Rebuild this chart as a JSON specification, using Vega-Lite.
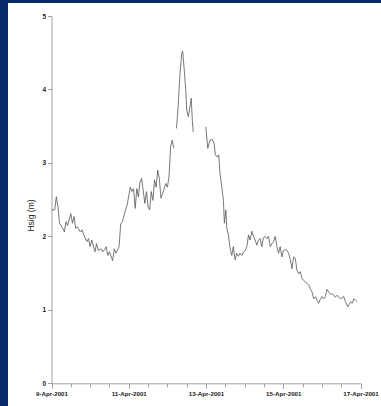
{
  "$schema": "https://vega.github.io/schema/vega-lite/v6.json",
  "width": 373,
  "height": 403,
  "autosize": "none",
  "padding": {"left": 8, "top": 3, "right": 0, "bottom": 0},
  "background": "#062a6b",
  "config": {"view": {"fill": "white", "stroke": null}, "font": "Liberation Sans"},
  "data": {"values": [
    {"t": "2001-04-09T00:00", "hsig": 2.36, "seg": 1},
    {"t": "2001-04-09T02:00", "hsig": 2.36, "seg": 1},
    {"t": "2001-04-09T03:00", "hsig": 2.54, "seg": 1},
    {"t": "2001-04-09T04:00", "hsig": 2.40, "seg": 1},
    {"t": "2001-04-09T05:00", "hsig": 2.18, "seg": 1},
    {"t": "2001-04-09T07:00", "hsig": 2.11, "seg": 1},
    {"t": "2001-04-09T08:00", "hsig": 2.06, "seg": 1},
    {"t": "2001-04-09T09:00", "hsig": 2.20, "seg": 1},
    {"t": "2001-04-09T10:00", "hsig": 2.15, "seg": 1},
    {"t": "2001-04-09T12:00", "hsig": 2.31, "seg": 1},
    {"t": "2001-04-09T13:00", "hsig": 2.18, "seg": 1},
    {"t": "2001-04-09T14:00", "hsig": 2.27, "seg": 1},
    {"t": "2001-04-09T15:00", "hsig": 2.11, "seg": 1},
    {"t": "2001-04-09T16:00", "hsig": 2.13, "seg": 1},
    {"t": "2001-04-09T18:00", "hsig": 2.06, "seg": 1},
    {"t": "2001-04-09T19:00", "hsig": 2.09, "seg": 1},
    {"t": "2001-04-09T20:00", "hsig": 2.02, "seg": 1},
    {"t": "2001-04-09T22:00", "hsig": 1.93, "seg": 1},
    {"t": "2001-04-09T23:00", "hsig": 1.97, "seg": 1},
    {"t": "2001-04-10T00:00", "hsig": 1.86, "seg": 1},
    {"t": "2001-04-10T01:00", "hsig": 1.95, "seg": 1},
    {"t": "2001-04-10T03:00", "hsig": 1.79, "seg": 1},
    {"t": "2001-04-10T04:00", "hsig": 1.90, "seg": 1},
    {"t": "2001-04-10T05:00", "hsig": 1.81, "seg": 1},
    {"t": "2001-04-10T07:00", "hsig": 1.83, "seg": 1},
    {"t": "2001-04-10T08:00", "hsig": 1.79, "seg": 1},
    {"t": "2001-04-10T09:00", "hsig": 1.82, "seg": 1},
    {"t": "2001-04-10T10:00", "hsig": 1.86, "seg": 1},
    {"t": "2001-04-10T11:00", "hsig": 1.74, "seg": 1},
    {"t": "2001-04-10T12:00", "hsig": 1.79, "seg": 1},
    {"t": "2001-04-10T14:00", "hsig": 1.67, "seg": 1},
    {"t": "2001-04-10T15:00", "hsig": 1.83, "seg": 1},
    {"t": "2001-04-10T16:00", "hsig": 1.77, "seg": 1},
    {"t": "2001-04-10T18:00", "hsig": 1.86, "seg": 1},
    {"t": "2001-04-10T19:00", "hsig": 2.17, "seg": 1},
    {"t": "2001-04-10T20:00", "hsig": 2.20, "seg": 1},
    {"t": "2001-04-10T22:00", "hsig": 2.36, "seg": 1},
    {"t": "2001-04-10T23:00", "hsig": 2.43, "seg": 1},
    {"t": "2001-04-11T01:00", "hsig": 2.67, "seg": 1},
    {"t": "2001-04-11T02:00", "hsig": 2.61, "seg": 1},
    {"t": "2001-04-11T03:00", "hsig": 2.65, "seg": 1},
    {"t": "2001-04-11T04:00", "hsig": 2.38, "seg": 1},
    {"t": "2001-04-11T05:00", "hsig": 2.65, "seg": 1},
    {"t": "2001-04-11T06:00", "hsig": 2.54, "seg": 1},
    {"t": "2001-04-11T07:00", "hsig": 2.74, "seg": 1},
    {"t": "2001-04-11T08:00", "hsig": 2.79, "seg": 1},
    {"t": "2001-04-11T10:00", "hsig": 2.45, "seg": 1},
    {"t": "2001-04-11T11:00", "hsig": 2.61, "seg": 1},
    {"t": "2001-04-11T12:00", "hsig": 2.40, "seg": 1},
    {"t": "2001-04-11T13:00", "hsig": 2.36, "seg": 1},
    {"t": "2001-04-11T14:00", "hsig": 2.61, "seg": 1},
    {"t": "2001-04-11T15:00", "hsig": 2.49, "seg": 1},
    {"t": "2001-04-11T16:00", "hsig": 2.77, "seg": 1},
    {"t": "2001-04-11T17:00", "hsig": 2.67, "seg": 1},
    {"t": "2001-04-11T18:00", "hsig": 2.90, "seg": 1},
    {"t": "2001-04-11T19:00", "hsig": 2.79, "seg": 1},
    {"t": "2001-04-11T20:00", "hsig": 2.52, "seg": 1},
    {"t": "2001-04-11T21:00", "hsig": 2.58, "seg": 1},
    {"t": "2001-04-11T23:00", "hsig": 2.72, "seg": 1},
    {"t": "2001-04-12T00:00", "hsig": 2.67, "seg": 1},
    {"t": "2001-04-12T01:00", "hsig": 2.81, "seg": 1},
    {"t": "2001-04-12T02:00", "hsig": 3.22, "seg": 1},
    {"t": "2001-04-12T03:00", "hsig": 3.31, "seg": 1},
    {"t": "2001-04-12T04:00", "hsig": 3.20, "seg": 1},
    {"t": "2001-04-12T05:40", "hsig": 3.47, "seg": 2},
    {"t": "2001-04-12T06:40", "hsig": 3.76, "seg": 2},
    {"t": "2001-04-12T07:50", "hsig": 4.22, "seg": 2},
    {"t": "2001-04-12T08:55", "hsig": 4.49, "seg": 2},
    {"t": "2001-04-12T09:30", "hsig": 4.52, "seg": 2},
    {"t": "2001-04-12T10:30", "hsig": 4.26, "seg": 2},
    {"t": "2001-04-12T11:25", "hsig": 3.99, "seg": 2},
    {"t": "2001-04-12T12:00", "hsig": 3.72, "seg": 2},
    {"t": "2001-04-12T13:00", "hsig": 3.63, "seg": 2},
    {"t": "2001-04-12T14:00", "hsig": 3.76, "seg": 2},
    {"t": "2001-04-12T14:50", "hsig": 3.88, "seg": 2},
    {"t": "2001-04-12T15:30", "hsig": 3.58, "seg": 2},
    {"t": "2001-04-12T16:05", "hsig": 3.42, "seg": 2},
    {"t": "2001-04-12T23:55", "hsig": 3.49, "seg": 3},
    {"t": "2001-04-13T01:05", "hsig": 3.20, "seg": 3},
    {"t": "2001-04-13T02:30", "hsig": 3.31, "seg": 3},
    {"t": "2001-04-13T03:55", "hsig": 3.32, "seg": 3},
    {"t": "2001-04-13T05:00", "hsig": 3.27, "seg": 3},
    {"t": "2001-04-13T05:50", "hsig": 3.11, "seg": 3},
    {"t": "2001-04-13T07:00", "hsig": 3.08, "seg": 3},
    {"t": "2001-04-13T07:55", "hsig": 3.11, "seg": 3},
    {"t": "2001-04-13T08:40", "hsig": 2.86, "seg": 3},
    {"t": "2001-04-13T09:50", "hsig": 2.67, "seg": 3},
    {"t": "2001-04-13T10:50", "hsig": 2.49, "seg": 3},
    {"t": "2001-04-13T11:25", "hsig": 2.18, "seg": 3},
    {"t": "2001-04-13T12:20", "hsig": 2.36, "seg": 3},
    {"t": "2001-04-13T12:55", "hsig": 2.11, "seg": 3},
    {"t": "2001-04-13T13:55", "hsig": 2.02, "seg": 3},
    {"t": "2001-04-13T15:00", "hsig": 1.83, "seg": 3},
    {"t": "2001-04-13T16:00", "hsig": 1.74, "seg": 3},
    {"t": "2001-04-13T17:00", "hsig": 1.86, "seg": 3},
    {"t": "2001-04-13T18:05", "hsig": 1.68, "seg": 3},
    {"t": "2001-04-13T19:05", "hsig": 1.77, "seg": 3},
    {"t": "2001-04-13T20:05", "hsig": 1.73, "seg": 3},
    {"t": "2001-04-13T21:10", "hsig": 1.77, "seg": 3},
    {"t": "2001-04-13T22:20", "hsig": 1.74, "seg": 3},
    {"t": "2001-04-13T23:20", "hsig": 1.79, "seg": 3},
    {"t": "2001-04-14T00:20", "hsig": 1.81, "seg": 3},
    {"t": "2001-04-14T01:25", "hsig": 1.86, "seg": 3},
    {"t": "2001-04-14T02:25", "hsig": 2.02, "seg": 3},
    {"t": "2001-04-14T03:25", "hsig": 1.95, "seg": 3},
    {"t": "2001-04-14T04:30", "hsig": 2.07, "seg": 3},
    {"t": "2001-04-14T05:30", "hsig": 2.00, "seg": 3},
    {"t": "2001-04-14T06:35", "hsig": 1.95, "seg": 3},
    {"t": "2001-04-14T07:35", "hsig": 1.88, "seg": 3},
    {"t": "2001-04-14T08:35", "hsig": 1.95, "seg": 3},
    {"t": "2001-04-14T09:40", "hsig": 1.97, "seg": 3},
    {"t": "2001-04-14T10:40", "hsig": 1.86, "seg": 3},
    {"t": "2001-04-14T11:40", "hsig": 1.98, "seg": 3},
    {"t": "2001-04-14T12:50", "hsig": 2.00, "seg": 3},
    {"t": "2001-04-14T13:50", "hsig": 1.97, "seg": 3},
    {"t": "2001-04-14T14:50", "hsig": 2.00, "seg": 3},
    {"t": "2001-04-14T15:55", "hsig": 1.86, "seg": 3},
    {"t": "2001-04-14T17:00", "hsig": 1.90, "seg": 3},
    {"t": "2001-04-14T18:00", "hsig": 1.93, "seg": 3},
    {"t": "2001-04-14T19:00", "hsig": 2.00, "seg": 3},
    {"t": "2001-04-14T20:05", "hsig": 1.86, "seg": 3},
    {"t": "2001-04-14T21:05", "hsig": 1.77, "seg": 3},
    {"t": "2001-04-14T22:05", "hsig": 1.86, "seg": 3},
    {"t": "2001-04-14T23:10", "hsig": 1.72, "seg": 3},
    {"t": "2001-04-15T00:10", "hsig": 1.81, "seg": 3},
    {"t": "2001-04-15T01:20", "hsig": 1.82, "seg": 3},
    {"t": "2001-04-15T02:20", "hsig": 1.81, "seg": 3},
    {"t": "2001-04-15T03:20", "hsig": 1.77, "seg": 3},
    {"t": "2001-04-15T04:25", "hsig": 1.68, "seg": 3},
    {"t": "2001-04-15T05:25", "hsig": 1.56, "seg": 3},
    {"t": "2001-04-15T06:25", "hsig": 1.72, "seg": 3},
    {"t": "2001-04-15T07:30", "hsig": 1.70, "seg": 3},
    {"t": "2001-04-15T08:30", "hsig": 1.54, "seg": 3},
    {"t": "2001-04-15T09:30", "hsig": 1.49, "seg": 3},
    {"t": "2001-04-15T10:35", "hsig": 1.52, "seg": 3},
    {"t": "2001-04-15T11:40", "hsig": 1.43, "seg": 3},
    {"t": "2001-04-15T12:40", "hsig": 1.40, "seg": 3},
    {"t": "2001-04-15T13:40", "hsig": 1.38, "seg": 3},
    {"t": "2001-04-15T14:50", "hsig": 1.36, "seg": 3},
    {"t": "2001-04-15T15:50", "hsig": 1.34, "seg": 3},
    {"t": "2001-04-15T16:50", "hsig": 1.29, "seg": 3},
    {"t": "2001-04-15T17:55", "hsig": 1.24, "seg": 3},
    {"t": "2001-04-15T18:55", "hsig": 1.15, "seg": 3},
    {"t": "2001-04-15T20:00", "hsig": 1.18, "seg": 3},
    {"t": "2001-04-15T21:00", "hsig": 1.13, "seg": 3},
    {"t": "2001-04-15T22:00", "hsig": 1.09, "seg": 3},
    {"t": "2001-04-15T23:05", "hsig": 1.15, "seg": 3},
    {"t": "2001-04-16T00:05", "hsig": 1.18, "seg": 3},
    {"t": "2001-04-16T01:05", "hsig": 1.15, "seg": 3},
    {"t": "2001-04-16T02:10", "hsig": 1.18, "seg": 3},
    {"t": "2001-04-16T03:10", "hsig": 1.28, "seg": 3},
    {"t": "2001-04-16T04:20", "hsig": 1.24, "seg": 3},
    {"t": "2001-04-16T05:20", "hsig": 1.21, "seg": 3},
    {"t": "2001-04-16T06:20", "hsig": 1.22, "seg": 3},
    {"t": "2001-04-16T07:25", "hsig": 1.20, "seg": 3},
    {"t": "2001-04-16T08:25", "hsig": 1.17, "seg": 3},
    {"t": "2001-04-16T09:30", "hsig": 1.20, "seg": 3},
    {"t": "2001-04-16T11:30", "hsig": 1.15, "seg": 3},
    {"t": "2001-04-16T13:35", "hsig": 1.18, "seg": 3},
    {"t": "2001-04-16T14:40", "hsig": 1.11, "seg": 3},
    {"t": "2001-04-16T16:05", "hsig": 1.04, "seg": 3},
    {"t": "2001-04-16T17:50", "hsig": 1.11, "seg": 3},
    {"t": "2001-04-16T18:50", "hsig": 1.09, "seg": 3},
    {"t": "2001-04-16T19:50", "hsig": 1.15, "seg": 3},
    {"t": "2001-04-16T20:55", "hsig": 1.13, "seg": 3},
    {"t": "2001-04-16T22:00", "hsig": 1.11, "seg": 3}
  ]},
  "mark": {"type": "line", "color": "#555555", "strokeWidth": 0.8, "clip": false},
  "encoding": {
    "x": {
      "field": "t", "type": "temporal",
      "scale": {"domain": [{"year": 2001, "month": 4, "date": 9}, {"year": 2001, "month": 4, "date": 17}], "range": [43.5, 352.5]},
      "axis": {
        "title": null, "grid": false, "offset": -22.7,
        "values": [
          {"year": 2001, "month": 4, "date": 9, "hours": 0}, {"year": 2001, "month": 4, "date": 9, "hours": 12},
          {"year": 2001, "month": 4, "date": 10, "hours": 0}, {"year": 2001, "month": 4, "date": 10, "hours": 12},
          {"year": 2001, "month": 4, "date": 11, "hours": 0}, {"year": 2001, "month": 4, "date": 11, "hours": 12},
          {"year": 2001, "month": 4, "date": 12, "hours": 0}, {"year": 2001, "month": 4, "date": 12, "hours": 12},
          {"year": 2001, "month": 4, "date": 13, "hours": 0}, {"year": 2001, "month": 4, "date": 13, "hours": 12},
          {"year": 2001, "month": 4, "date": 14, "hours": 0}, {"year": 2001, "month": 4, "date": 14, "hours": 12},
          {"year": 2001, "month": 4, "date": 15, "hours": 0}, {"year": 2001, "month": 4, "date": 15, "hours": 12},
          {"year": 2001, "month": 4, "date": 16, "hours": 0}, {"year": 2001, "month": 4, "date": 16, "hours": 12},
          {"year": 2001, "month": 4, "date": 17, "hours": 0}
        ],
        "labelExpr": "(hours(datum.value) == 0 && date(datum.value) % 2 == 1) ? timeFormat(datum.value, '%-d-%b-%Y') : ''",
        "labelFlush": false, "labelOverlap": false,
        "labelFontSize": 6.2, "labelFontWeight": "bold", "labelColor": "#222222", "labelPadding": 2,
        "domainColor": "#888888", "domainWidth": 0.8, "tickColor": "#888888", "tickWidth": 0.8,
        "tickSize": {"condition": {"test": "hours(datum.value) == 0 && date(datum.value) % 2 == 1", "value": 5}, "value": 3.5}
      }
    },
    "y": {
      "field": "hsig", "type": "quantitative",
      "scale": {"domain": [0, 5], "range": [380.3, 13]},
      "axis": {
        "title": "Hsig (m)", "grid": false, "offset": -43.5,
        "values": [0, 0.5, 1, 1.5, 2, 2.5, 3, 3.5, 4, 4.5, 5],
        "format": "d",
        "labelExpr": "datum.value % 1 == 0 ? datum.label : ''",
        "labelFontSize": 6.5, "labelFontWeight": "bold", "labelColor": "#222222", "labelPadding": 2,
        "domainColor": "#888888", "domainWidth": 0.8, "tickColor": "#888888", "tickWidth": 0.8, "tickSize": 4,
        "titleFontSize": 8.5, "titleFontWeight": "normal", "titleColor": "#222222",
        "titleX": -21, "titleY": 212, "titleAngle": -90, "titleAlign": "center", "titleBaseline": "middle"
      }
    },
    "detail": {"field": "seg", "type": "nominal"}
  }
}
